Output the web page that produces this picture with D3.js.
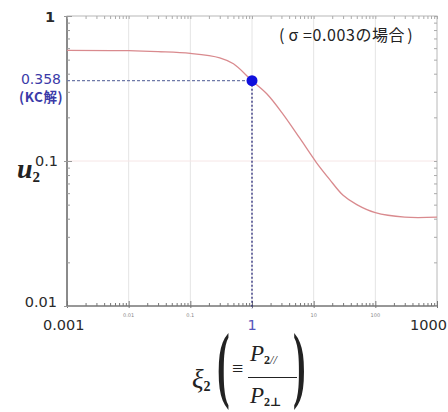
<!DOCTYPE html>
<html>
<head>
<meta charset="utf-8">
<script src="https://cdn.jsdelivr.net/npm/d3@7"></script>
<style>
  html, body { margin: 0; padding: 0; background: #fff; }
  svg { display: block; }
</style>
</head>
<body>
<div id="chart"></div>
<script>
  // curve u2(xi2), sigma = 0.003
  const xiValues = [0.001, 0.01, 0.03, 0.1, 0.3, 0.5, 1, 1.75, 3.2, 6, 11, 18, 30, 50, 100, 300, 1000];
  const u2Values = [0.58, 0.577, 0.568, 0.552, 0.515, 0.468, 0.358, 0.29, 0.21, 0.143, 0.098, 0.075, 0.058, 0.05, 0.044, 0.041, 0.041];
  const kcPoint = [1, 0.358];

  const xMajor = [0.001, 0.01, 0.1, 1, 10, 100, 1000];
  const xSmallLabels = ['0.01', '0.1', '10', '100'];

  const W = 448, H = 412;
  const margin = { top: 16, right: 11, bottom: 110, left: 67 };

  const svg = d3.select('#chart').append('svg')
    .attr('width', W).attr('height', H);

  const x = d3.scaleLog().domain([0.001, 1000]).range([margin.left, W - margin.right]);
  const y = d3.scaleLog().domain([0.01, 1]).range([H - margin.bottom + 4, margin.top]);

  const x0 = x.range()[0], x1 = x.range()[1];
  const yb = y.range()[0], yt = y.range()[1];

  // grid
  const grid = svg.append('g');
  grid.selectAll('line.vg').data(xMajor.slice(1, -1)).enter().append('line')
    .attr('x1', d => x(d)).attr('x2', d => x(d))
    .attr('y1', yt).attr('y2', yb)
    .attr('stroke', '#e4e4e4').attr('stroke-width', 1);
  grid.selectAll('line.hg').data([0.1]).enter().append('line')
    .attr('x1', x0).attr('x2', x1)
    .attr('y1', d => y(d)).attr('y2', d => y(d))
    .attr('stroke', '#f6e6e6').attr('stroke-width', 1);

  // frame
  svg.append('rect')
    .attr('x', x0).attr('y', yt).attr('width', x1 - x0).attr('height', yb - yt)
    .attr('fill', 'none').attr('stroke', '#b8b8b8').attr('stroke-width', 1);
  svg.append('line').attr('x1', x0).attr('x2', x0).attr('y1', yt).attr('y2', yb)
    .attr('stroke', '#555').attr('stroke-width', 1.2);
  svg.append('line').attr('x1', x0).attr('x2', x1).attr('y1', yb).attr('y2', yb)
    .attr('stroke', '#555').attr('stroke-width', 1.2);

  // ticks via d3 axes (inward, no labels)
  const xTicks = x.ticks();
  const yTicks = y.ticks();
  const isMajor = v => Math.abs(Math.log10(v) - Math.round(Math.log10(v))) < 1e-6;

  svg.append('g').attr('transform', `translate(0,${yb})`)
    .call(d3.axisTop(x).tickValues(xTicks).tickFormat('').tickSizeOuter(0).tickSize(3))
    .call(g => g.select('.domain').remove())
    .call(g => g.selectAll('.tick line').attr('stroke', '#777')
      .attr('y2', d => isMajor(d) ? -5 : -3).attr('y1', d => isMajor(d) ? 2 : 0));
  svg.append('g').attr('transform', `translate(0,${yt})`)
    .call(d3.axisBottom(x).tickValues(xTicks).tickFormat('').tickSizeOuter(0).tickSize(3))
    .call(g => g.select('.domain').remove())
    .call(g => g.selectAll('.tick line').attr('stroke', '#aaa'));
  svg.append('g').attr('transform', `translate(${x0},0)`)
    .call(d3.axisRight(y).tickValues(yTicks).tickFormat('').tickSizeOuter(0).tickSize(3))
    .call(g => g.select('.domain').remove())
    .call(g => g.selectAll('.tick line').attr('stroke', '#999')
      .attr('x2', d => isMajor(d) ? 5 : 3).attr('x1', d => isMajor(d) ? -3 : 0));
  svg.append('g').attr('transform', `translate(${x1},0)`)
    .call(d3.axisLeft(y).tickValues(yTicks).tickFormat('').tickSizeOuter(0).tickSize(3))
    .call(g => g.select('.domain').remove())
    .call(g => g.selectAll('.tick line').attr('stroke', '#aaa'));

  // tiny decade labels under the x axis
  svg.append('g').selectAll('text').data(xMajor.slice(1, -1).filter(v => v !== 1)).enter().append('text')
    .attr('x', d => x(d)).attr('y', yb + 11)
    .attr('text-anchor', 'middle')
    .attr('font-family', 'DejaVu Sans, sans-serif').attr('font-size', 5)
    .attr('fill', '#888')
    .text((d, i) => xSmallLabels[i]);

  // curve
  const line = d3.line()
    .x((d, i) => x(xiValues[i]))
    .y(d => y(d))
    .curve(d3.curveCatmullRom.alpha(0.5));
  svg.append('path').datum(u2Values)
    .attr('d', line)
    .attr('fill', 'none')
    .attr('stroke', '#d98a8e')
    .attr('stroke-width', 1.3);

  // KC solution guides
  svg.append('line')
    .attr('x1', x0).attr('x2', x(kcPoint[0]))
    .attr('y1', y(kcPoint[1])).attr('y2', y(kcPoint[1]))
    .attr('stroke', '#6f7aa8').attr('stroke-width', 1.2)
    .attr('stroke-dasharray', '3,2');
  svg.append('line')
    .attr('x1', x(kcPoint[0])).attr('x2', x(kcPoint[0]))
    .attr('y1', y(kcPoint[1])).attr('y2', yb + 3)
    .attr('stroke', '#2a2a7a').attr('stroke-width', 1.3)
    .attr('stroke-dasharray', '2,2');
  svg.append('circle')
    .attr('cx', x(kcPoint[0])).attr('cy', y(kcPoint[1])).attr('r', 5.5)
    .attr('fill', '#1010dd');

  // axis labels
  const numFont = 'DejaVu Sans, Verdana, sans-serif';
  const lbl = (tx, ty, t, anchor, color, size) => svg.append('text')
    .attr('x', tx).attr('y', ty).attr('text-anchor', anchor || 'end')
    .attr('font-family', numFont).attr('font-size', size || 14.5)
    .attr('fill', color || '#2a2a2a').text(t);

  lbl(x0 - 12, y(1) + 6, '1', 'end').attr('font-weight', 'bold');
  lbl(x0 - 9, y(0.1) + 5, '0.1', 'end');
  lbl(x0 - 10, y(0.01) + 1, '0.01', 'end');
  lbl(x(0.001) - 24, yb + 24, '0.001', 'start');
  lbl(W - 1, yb + 24, '1000', 'end');
  lbl(x(1), yb + 24, '1', 'middle', '#5555bb');
  lbl(x0 - 6, y(kcPoint[1]) + 3, '0.358', 'end', '#3b3ba8', 14);
  lbl(x0 - 4, y(kcPoint[1]) + 21, '(KC解)', 'end', '#3b3ba8', 13.5)
    .attr('font-family', 'Noto Sans CJK JP, sans-serif')
    .attr('font-weight', 'bold').attr('letter-spacing', 0.5);

  // sigma annotation
  const sig = svg.append('text')
    .attr('x', 279).attr('y', 41).attr('text-anchor', 'start')
    .attr('font-family', 'Noto Sans CJK JP, sans-serif').attr('font-size', 16)
    .attr('fill', '#222');
  sig.append('tspan').text('(');
  sig.append('tspan').attr('dx', 4).attr('letter-spacing', 0.6).text('σ =0.003の場合');
  sig.append('tspan').attr('dx', 2).text(')');

  // u2 label
  const u = svg.append('text')
    .attr('x', 17).attr('y', 178)
    .attr('font-family', 'Liberation Serif, DejaVu Serif, serif')
    .attr('font-style', 'italic').attr('font-weight', 'bold')
    .attr('font-size', 28).attr('fill', '#222');
  u.append('tspan').text('u');
  u.append('tspan').attr('font-size', 15).attr('dy', 4).attr('font-style', 'normal').text('2');

  // xi2 label with fraction
  const serif = 'Liberation Serif, DejaVu Serif, serif';
  const xl = svg.append('g');
  const xi = xl.append('text').attr('x', 192).attr('y', 388)
    .attr('font-family', serif).attr('font-size', 27).attr('fill', '#222');
  xi.append('tspan').attr('font-style', 'italic').text('ξ');
  xi.append('tspan').attr('font-size', 14).attr('font-weight', 'bold').attr('dy', 3).text('2');

  xl.append('text').attr('x', 217).attr('y', 392)
    .attr('transform', 'translate(217,392) scale(1,2.25) translate(-217,-392)')
    .attr('font-family', serif).attr('font-weight', 'bold')
    .attr('font-size', 38).attr('fill', '#222').text('(');
  xl.append('text').attr('x', 293).attr('y', 392)
    .attr('transform', 'translate(293,392) scale(1,2.25) translate(-293,-392)')
    .attr('font-family', serif).attr('font-weight', 'bold')
    .attr('font-size', 38).attr('fill', '#222').text(')');

  xl.append('text').attr('x', 232).attr('y', 375)
    .attr('font-family', serif).attr('font-size', 20).attr('fill', '#222').text('≡');
  xl.append('line').attr('x1', 248).attr('x2', 297).attr('y1', 377.5).attr('y2', 377.5)
    .attr('stroke', '#222').attr('stroke-width', 1.2);
  const num = xl.append('text').attr('x', 250).attr('y', 361)
    .attr('font-family', serif).attr('font-size', 23).attr('fill', '#222');
  num.append('tspan').attr('font-style', 'italic').text('P');
  num.append('tspan').attr('font-size', 12).attr('dy', 3).attr('font-weight', 'bold').text('2');
  num.append('tspan').attr('font-size', 12).attr('font-style', 'italic').text('//');
  const den = xl.append('text').attr('x', 250).attr('y', 403)
    .attr('font-family', serif).attr('font-size', 23).attr('fill', '#222');
  den.append('tspan').attr('font-style', 'italic').text('P');
  den.append('tspan').attr('font-size', 12).attr('dy', 3).attr('font-weight', 'bold').text('2⊥');
</script>
</body>
</html>
